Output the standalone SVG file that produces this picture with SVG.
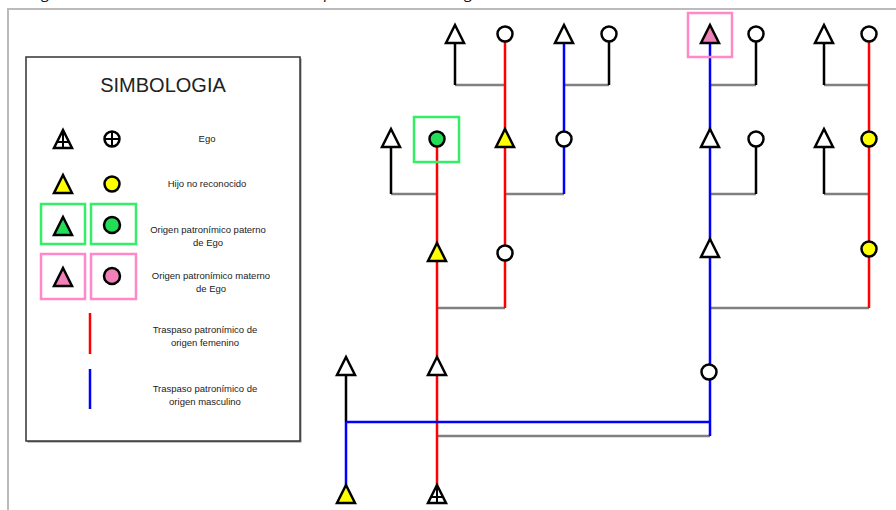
<svg xmlns="http://www.w3.org/2000/svg" xmlns:xlink="http://www.w3.org/1999/xlink" width="896" height="510" viewBox="0 0 896 510">
  <defs>
    <!-- male symbol: apex at origin -->
    <path id="tri" d="M0,0 L9,18 L-9,18 Z"/>
    <style>
      text { font-family: "Liberation Sans", Arial, sans-serif; fill: #222; }
      .cap { font-family: "Open Sans", "Noto Sans", sans-serif; font-style: italic; font-size: 16px; fill: #111; }
      .lg { font-size: 9.5px; text-anchor: middle; }
      .sym { stroke: #000; stroke-width: 2.5; stroke-linejoin: miter; fill: #fff; }
      .yel { fill: #ffff00; }
      .grn { fill: #22dd55; }
      .pnk { fill: #f080b8; }
      .gbox { fill: none; stroke: #33ee66; stroke-width: 2.5; }
      .pbox { fill: none; stroke: #ff88c8; stroke-width: 2.5; }
      .ln { fill: none; stroke-width: 2.5; }
      .red { stroke: #ff0000; }
      .blue { stroke: #0000ff; }
      .gray { stroke: #808080; }
      .blk { stroke: #000; }
      .frame { fill: none; stroke: #bbbbbb; stroke-width: 2; }
    </style>
  </defs>

  <rect width="896" height="510" fill="#fff"/>

  <!-- page caption (runs off the top edge) -->
  <text class="cap" x="18" y="-2">Diagrama 1: Transmisión del nombre en la patrilínea hasta el Ego</text>

  <!-- page frame -->
  <path class="frame" d="M8,510 V9 H896"/>

  <!-- legend -->
  <g id="legend">
    <rect x="27.5" y="58.5" width="274" height="384" fill="#888"/>
    <rect x="26" y="57" width="274" height="384" fill="#fff" stroke="#333" stroke-width="1.5"/>
    <text x="163" y="92" font-size="20" text-anchor="middle">SIMBOLOGIA</text>

    <!-- ego -->
    <use xlink:href="#tri" x="63" y="130" class="sym"/>
    <path d="M63,130 V148 M57,142 H69" stroke="#000" stroke-width="2" fill="none"/>
    <circle cx="112" cy="139" r="7.5" class="sym"/>
    <path d="M112,131 V147 M104,139 H120" stroke="#000" stroke-width="2" fill="none"/>
    <text class="lg" x="207" y="142" font-size="9">Ego</text>

    <!-- unrecognised child -->
    <use xlink:href="#tri" x="63" y="175" class="sym yel"/>
    <circle cx="112" cy="184" r="7.5" class="sym yel"/>
    <text class="lg" x="207" y="187">Hijo no reconocido</text>

    <!-- paternal origin -->
    <rect x="41" y="204" width="44" height="40" class="gbox"/>
    <rect x="91" y="204" width="45" height="40" class="gbox"/>
    <use xlink:href="#tri" x="63" y="217" class="sym grn"/>
    <circle cx="112" cy="225" r="8" class="sym grn"/>
    <text class="lg" x="208" y="233">Origen patronímico paterno</text>
    <text class="lg" x="208" y="246">de Ego</text>

    <!-- maternal origin -->
    <rect x="41" y="254" width="44" height="45" class="pbox"/>
    <rect x="91" y="254" width="45" height="45" class="pbox"/>
    <use xlink:href="#tri" x="63" y="268" class="sym pnk"/>
    <circle cx="112" cy="276" r="8" class="sym pnk"/>
    <text class="lg" x="211" y="279">Origen patronímico materno</text>
    <text class="lg" x="211" y="292">de Ego</text>

    <!-- line keys -->
    <line x1="90" y1="313" x2="90" y2="354" class="ln red" stroke-width="3"/>
    <text class="lg" x="205" y="333">Traspaso patronímico de</text>
    <text class="lg" x="205" y="346">origen femenino</text>
    <line x1="90" y1="369" x2="90" y2="409" class="ln blue" stroke-width="3"/>
    <text class="lg" x="205" y="392">Traspaso patronímico de</text>
    <text class="lg" x="205" y="405">origen masculino</text>
  </g>

  <!-- connectors -->
  <g id="connectors">
    <!-- marriage bars -->
    <path class="ln gray" d="M455,85 H505 M564,85 H609 M710,85 H756 M824,85 H869
                             M391,194 H437 M505,194 H564 M710,194 H756 M824,194 H869
                             M437,308 H505 M710,308 H869 M437,436 H710"/>
    <!-- spouse drops -->
    <path class="ln blk" d="M455,43 V85 M609,42 V85 M756,42 V85 M824,43 V85
                            M391,148 V194 M756,147 V194 M824,148 V194 M346,375 V422"/>
    <!-- female-line transmission -->
    <path class="ln red" d="M505,42 V308 M437,146 V485 M869,42 V308"/>
    <!-- male-line transmission -->
    <path class="ln blue" d="M564,43 V194 M710,43 V436 M346,422 H710 M346,422 V485"/>
  </g>

  <!-- generation 1 -->
  <g id="n1"><use xlink:href="#tri" x="455" y="25" class="sym"/></g>
  <g id="n2"><circle cx="505" cy="34" r="7.5" class="sym"/></g>
  <g id="n3"><use xlink:href="#tri" x="564" y="25" class="sym"/></g>
  <g id="n4"><circle cx="609" cy="34" r="7.5" class="sym"/></g>
  <g id="n5">
    <rect x="688" y="13" width="44" height="44" class="pbox"/>
    <use xlink:href="#tri" x="710" y="25" class="sym pnk"/>
  </g>
  <g id="n6"><circle cx="756" cy="34" r="7.5" class="sym"/></g>
  <g id="n7"><use xlink:href="#tri" x="824" y="25" class="sym"/></g>
  <g id="n8"><circle cx="869" cy="34" r="7.5" class="sym"/></g>

  <!-- generation 2 -->
  <g id="n9"><use xlink:href="#tri" x="391" y="129" class="sym"/></g>
  <g id="n10">
    <rect x="414" y="117" width="45" height="45" class="gbox"/>
    <circle cx="437" cy="139" r="7.5" class="sym grn"/>
  </g>
  <g id="n11"><use xlink:href="#tri" x="505" y="129" class="sym yel"/></g>
  <g id="n12"><circle cx="564" cy="139" r="7.5" class="sym"/></g>
  <g id="n13"><use xlink:href="#tri" x="710" y="129" class="sym"/></g>
  <g id="n14"><circle cx="756" cy="139" r="7.5" class="sym"/></g>
  <g id="n15"><use xlink:href="#tri" x="824" y="129" class="sym"/></g>
  <g id="n16"><circle cx="869" cy="139" r="7.5" class="sym yel"/></g>

  <!-- generation 3 -->
  <g id="n17"><use xlink:href="#tri" x="437" y="243" class="sym yel"/></g>
  <g id="n18"><circle cx="505" cy="253" r="7.5" class="sym"/></g>
  <g id="n19"><use xlink:href="#tri" x="710" y="239" class="sym"/></g>
  <g id="n20"><circle cx="869" cy="249" r="7.5" class="sym yel"/></g>

  <!-- generation 4 -->
  <g id="n21"><use xlink:href="#tri" x="346" y="357" class="sym"/></g>
  <g id="n22"><use xlink:href="#tri" x="437" y="357" class="sym"/></g>
  <g id="n23"><circle cx="709" cy="372" r="7.5" class="sym"/></g>

  <!-- generation 5 -->
  <g id="n24"><use xlink:href="#tri" x="346" y="485" class="sym yel"/></g>
  <g id="n25">
    <use xlink:href="#tri" x="437" y="485" class="sym"/>
    <path d="M437,485 V503 M431,497 H443" stroke="#000" stroke-width="2" fill="none"/>
  </g>
</svg>
